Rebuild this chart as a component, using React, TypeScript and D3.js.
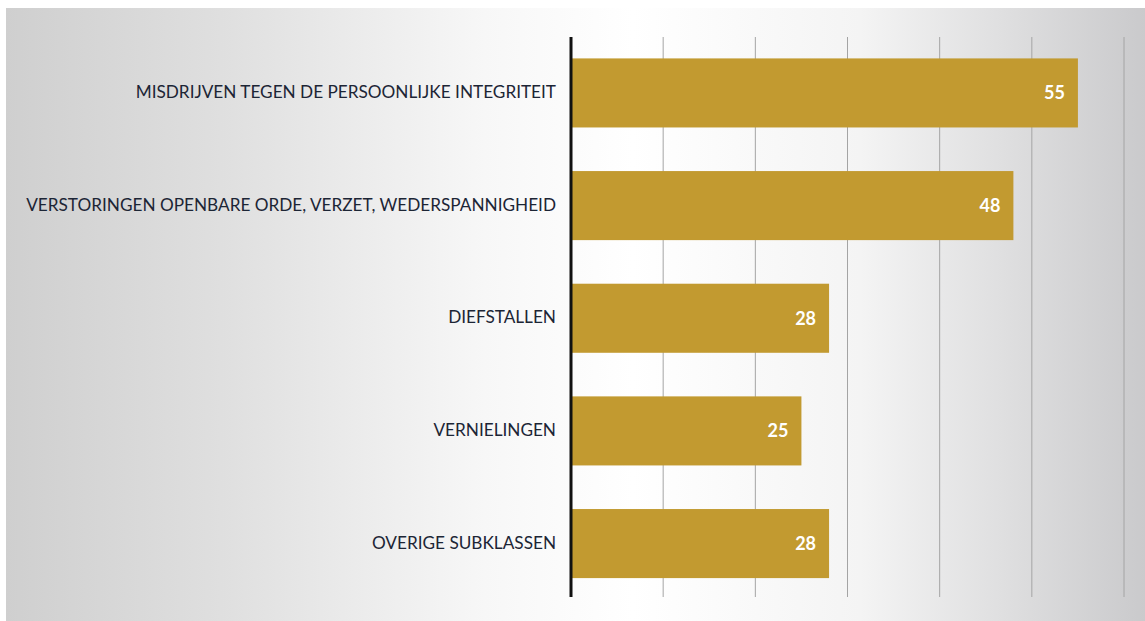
import { useEffect, useRef } from "react";
import * as d3 from "d3";

const categories = [
  "MISDRIJVEN TEGEN DE PERSOONLIJKE INTEGRITEIT",
  "VERSTORINGEN OPENBARE ORDE, VERZET, WEDERSPANNIGHEID",
  "DIEFSTALLEN",
  "VERNIELINGEN",
  "OVERIGE SUBKLASSEN",
];
const values = [55, 48, 28, 25, 28];
const gridTicks = [0, 10, 20, 30, 40, 50, 60];

const W = 1145;
const H = 621;

const App = () => {
  const svgRef = useRef<SVGSVGElement>(null);

  useEffect(() => {
    if (!svgRef.current) return;
    const svg = d3.select(svgRef.current);
    svg.selectAll("*").remove();

    const defs = svg.append("defs");
    const grad = defs
      .append("linearGradient")
      .attr("id", "bg")
      .attr("x1", "0")
      .attr("x2", "1")
      .attr("y1", "0")
      .attr("y2", "0");
    grad.append("stop").attr("offset", "0").attr("stop-color", "#cfcfcf");
    grad.append("stop").attr("offset", "0.2").attr("stop-color", "#e0e0e0");
    grad.append("stop").attr("offset", "0.42").attr("stop-color", "#f7f7f7");
    grad.append("stop").attr("offset", "0.55").attr("stop-color", "#ffffff");
    grad.append("stop").attr("offset", "0.75").attr("stop-color", "#f4f4f4");
    grad.append("stop").attr("offset", "1").attr("stop-color", "#cacacc");

    svg.append("rect").attr("width", W).attr("height", H).attr("fill", "#ffffff");
    svg
      .append("rect")
      .attr("x", 6)
      .attr("y", 8)
      .attr("width", W - 6)
      .attr("height", H - 8)
      .attr("fill", "url(#bg)");

    const x = d3.scaleLinear().domain([0, 60]).range([571, 1124]);
    const y = d3
      .scaleBand<string>()
      .domain(categories)
      .range([37, 599.5])
      .paddingInner(0.387)
      .paddingOuter(0.19);

    const top = 37;
    const bottom = 597;

    // gridlines
    svg
      .append("g")
      .selectAll("line")
      .data(gridTicks.slice(1))
      .join("line")
      .attr("x1", (d) => x(d))
      .attr("x2", (d) => x(d))
      .attr("y1", top)
      .attr("y2", bottom)
      .attr("stroke", "#a4a4a4")
      .attr("stroke-width", 1);

    // bars
    const g = svg.append("g");
    g.selectAll("rect")
      .data(values)
      .join("rect")
      .attr("x", x(0))
      .attr("y", (_, i) => y(categories[i])!)
      .attr("width", (d) => x(d) - x(0))
      .attr("height", y.bandwidth())
      .attr("fill", "#c29a30");

    g.selectAll("text.val")
      .data(values)
      .join("text")
      .attr("class", "val")
      .attr("x", (d) => x(d) - 13)
      .attr("y", (_, i) => y(categories[i])! + y.bandwidth() / 2)
      .attr("dy", "0.36em")
      .attr("text-anchor", "end")
      .attr("fill", "#ffffff")
      .attr("font-family", "Lato, 'Open Sans', sans-serif")
      .attr("font-weight", "bold")
      .attr("font-size", 18)
      .text((d) => d);

    // category labels
    svg
      .append("g")
      .selectAll("text")
      .data(categories)
      .join("text")
      .attr("x", 556)
      .attr("y", (d) => y(d)! + y.bandwidth() / 2 - 1)
      .attr("dy", "0.36em")
      .attr("text-anchor", "end")
      .attr("fill", "#1c2535")
      .attr("font-family", "Lato, 'Open Sans', sans-serif")
      .attr("font-size", 17.2)
      .text((d) => d);

    // axis line
    svg
      .append("line")
      .attr("x1", x(0))
      .attr("x2", x(0))
      .attr("y1", top)
      .attr("y2", bottom)
      .attr("stroke", "#111111")
      .attr("stroke-width", 3);
  }, []);

  return (
    <div style={{ position: "fixed", left: 0, top: 0 }}>
      <svg ref={svgRef} width={W} height={H} style={{ display: "block" }} />
    </div>
  );
};

export default App;
